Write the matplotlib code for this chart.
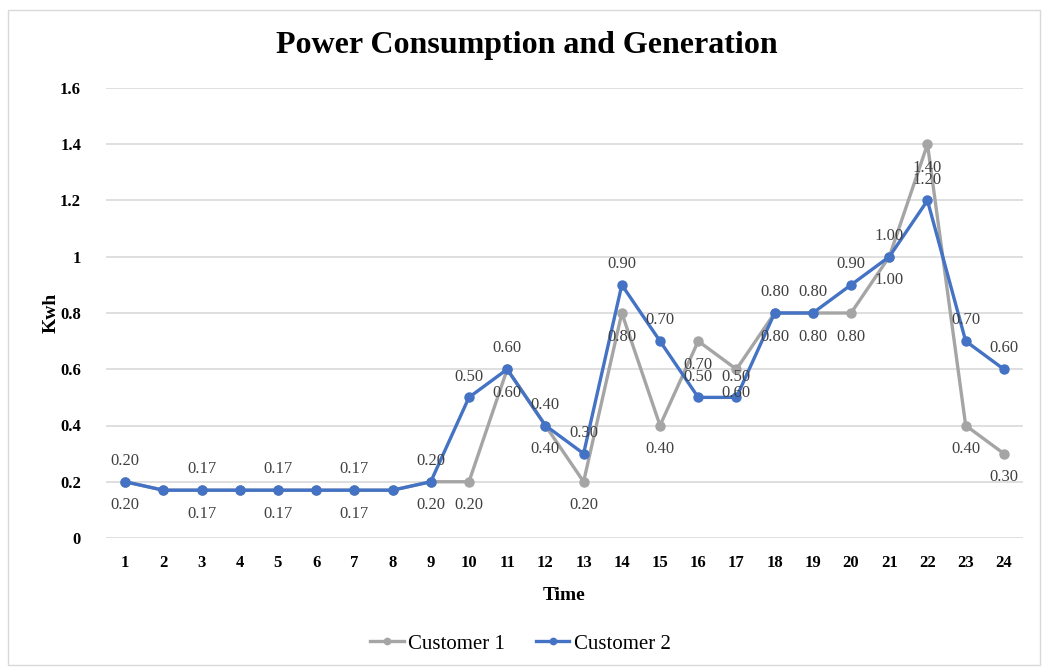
import matplotlib.pyplot as plt
from matplotlib.patches import Rectangle

# data
hours = list(range(1, 25))
customer1 = [0.20, 0.17, 0.17, 0.17, 0.17, 0.17, 0.17, 0.17, 0.20, 0.20, 0.60, 0.40,
             0.20, 0.80, 0.40, 0.70, 0.60, 0.80, 0.80, 0.80, 1.00, 1.40, 0.40, 0.30]
customer2 = [0.20, 0.17, 0.17, 0.17, 0.17, 0.17, 0.17, 0.17, 0.20, 0.50, 0.60, 0.40,
             0.30, 0.90, 0.70, 0.50, 0.50, 0.80, 0.80, 0.90, 1.00, 1.20, 0.70, 0.60]
# hours whose labels are hidden in the original
no_label = [2, 4, 6, 8]
yticks = [0, 0.2, 0.4, 0.6, 0.8, 1, 1.2, 1.4, 1.6]
ytick_labels = ['0', '0.2', '0.4', '0.6', '0.8', '1', '1.2', '1.4', '1.6']

plt.rcParams['font.family'] = ['Liberation Serif', 'DejaVu Serif']

gray = '#A5A5A5'
blue = '#4472C4'
label_color = '#404040'

fig = plt.figure(figsize=(10.46, 6.7), dpi=100)
ax = fig.add_axes([106 / 1046, 1 - 538 / 670, (1023 - 106) / 1046, (538 - 88) / 670])

# outer chart border
fig.patches.append(Rectangle((8 / 1046, 5 / 670), 1032 / 1046, 655 / 670,
                             transform=fig.transFigure, fill=False,
                             edgecolor='#D9D9D9', linewidth=1))

ax.plot(hours, customer1, color=gray, lw=2.4, marker='o', ms=6.5, label='Customer 1', zorder=3)
ax.plot(hours, customer2, color=blue, lw=2.4, marker='o', ms=6.5, label='Customer 2', zorder=4)

# gray labels sit below their points, blue labels above
for h, v in zip(hours, customer1):
    if h in no_label:
        continue
    ax.annotate(f'{v:.2f}', (h, v), xytext=(0, -17), textcoords='offset points',
                ha='center', va='center', fontsize=12, color=label_color, zorder=5)
for h, v in zip(hours, customer2):
    if h in no_label:
        continue
    ax.annotate(f'{v:.2f}', (h, v), xytext=(0, 15), textcoords='offset points',
                ha='center', va='center', fontsize=12, color=label_color, zorder=5)

ax.set_xlim(0.5, 24.5)
ax.set_ylim(0, 1.6)
ax.set_yticks(yticks)
ax.set_yticklabels(ytick_labels, fontweight='bold', fontsize=12)
ax.set_xticks(hours)
ax.set_xticklabels([str(h) for h in hours], fontweight='bold', fontsize=12)
ax.tick_params(length=0, pad=12)
ax.tick_params(axis='y', pad=18)
ax.grid(axis='y', color='#D9D9D9', lw=1.2)
ax.set_axisbelow(True)
for s in ax.spines.values():
    s.set_visible(False)

ax.set_xlabel('Time', fontweight='bold', fontsize=14, labelpad=12)
ax.set_ylabel('Kwh', fontweight='bold', fontsize=14, labelpad=0)

fig.text(0.504, 1 - 46 / 670, 'Power Consumption and Generation', ha='center', va='center',
         fontsize=23, fontweight='bold')

ax.legend(loc='center', bbox_to_anchor=(0.452, -0.235), ncol=2, frameon=False,
          fontsize=15, handlelength=1.6, handletextpad=0.2, columnspacing=1.5, markerscale=0.7)

fig.savefig('out.png', dpi=100)
